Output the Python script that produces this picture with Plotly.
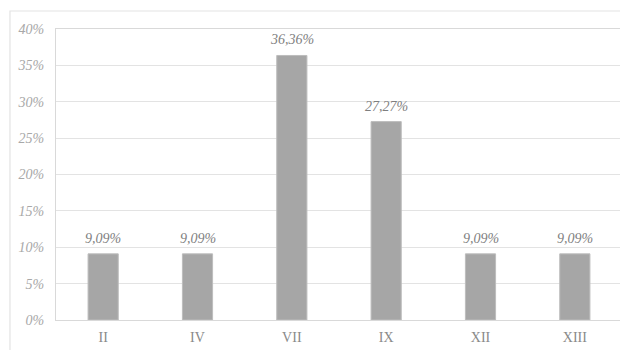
import plotly.graph_objects as go

categories = ["II", "IV", "VII", "IX", "XII", "XIII"]
values = [9.09, 9.09, 36.36, 27.27, 9.09, 9.09]
y_ticks = [0, 5, 10, 15, 20, 25, 30, 35, 40]
y_tick_labels = ["<i>%d%%</i>" % v for v in y_ticks]

fig = go.Figure(
    go.Bar(
        x=categories,
        y=values,
        width=0.32,
        marker=dict(color="#a6a6a6", line=dict(color="#bdbdbd", width=1)),
        hoverinfo="x+y",
    )
)

for c, v in zip(categories, values):
    fig.add_annotation(
        x=c, y=v, xref="x", yref="y",
        text="<i>" + ("%.2f%%" % v).replace(".", ",") + "</i>",
        showarrow=False, yanchor="bottom", yshift=6,
        font=dict(family="Liberation Serif", size=14, color="#7f7f7f"),
    )

# the page body has an 8px default margin, so the figure is sized to fit the window
fig.update_layout(
    width=620,
    height=342,
    margin=dict(l=48, r=6, t=21, b=30, autoexpand=False),
    paper_bgcolor="white",
    plot_bgcolor="white",
    separators=",.",
    showlegend=False,
    font=dict(family="Liberation Serif"),
    shapes=[
        dict(type="rect", xref="paper", yref="paper",
             x0=-0.0813, x1=1.05, y0=-0.2, y1=1.0619,
             line=dict(color="#e3e3e3", width=1.2), layer="below"),
    ],
)

fig.update_xaxes(
    showline=True, mirror=True, linecolor="#d9d9d9", linewidth=1.2,
    showgrid=False, ticks="", automargin=False, ticklabelstandoff=4,
    tickfont=dict(family="Liberation Serif", size=14, color="#8a8a8a"),
)
fig.update_yaxes(
    range=[0, 40], tickmode="array", tickvals=y_ticks, ticktext=y_tick_labels,
    showline=True, mirror=True, linecolor="#d9d9d9", linewidth=1.2,
    showgrid=True, gridcolor="#e3e3e3", gridwidth=1.2, zeroline=False,
    ticks="", ticklabelstandoff=8, automargin=False,
    tickfont=dict(family="Liberation Serif", size=14, color="#a8a8a8"),
)

fig.write_html("out.html")
